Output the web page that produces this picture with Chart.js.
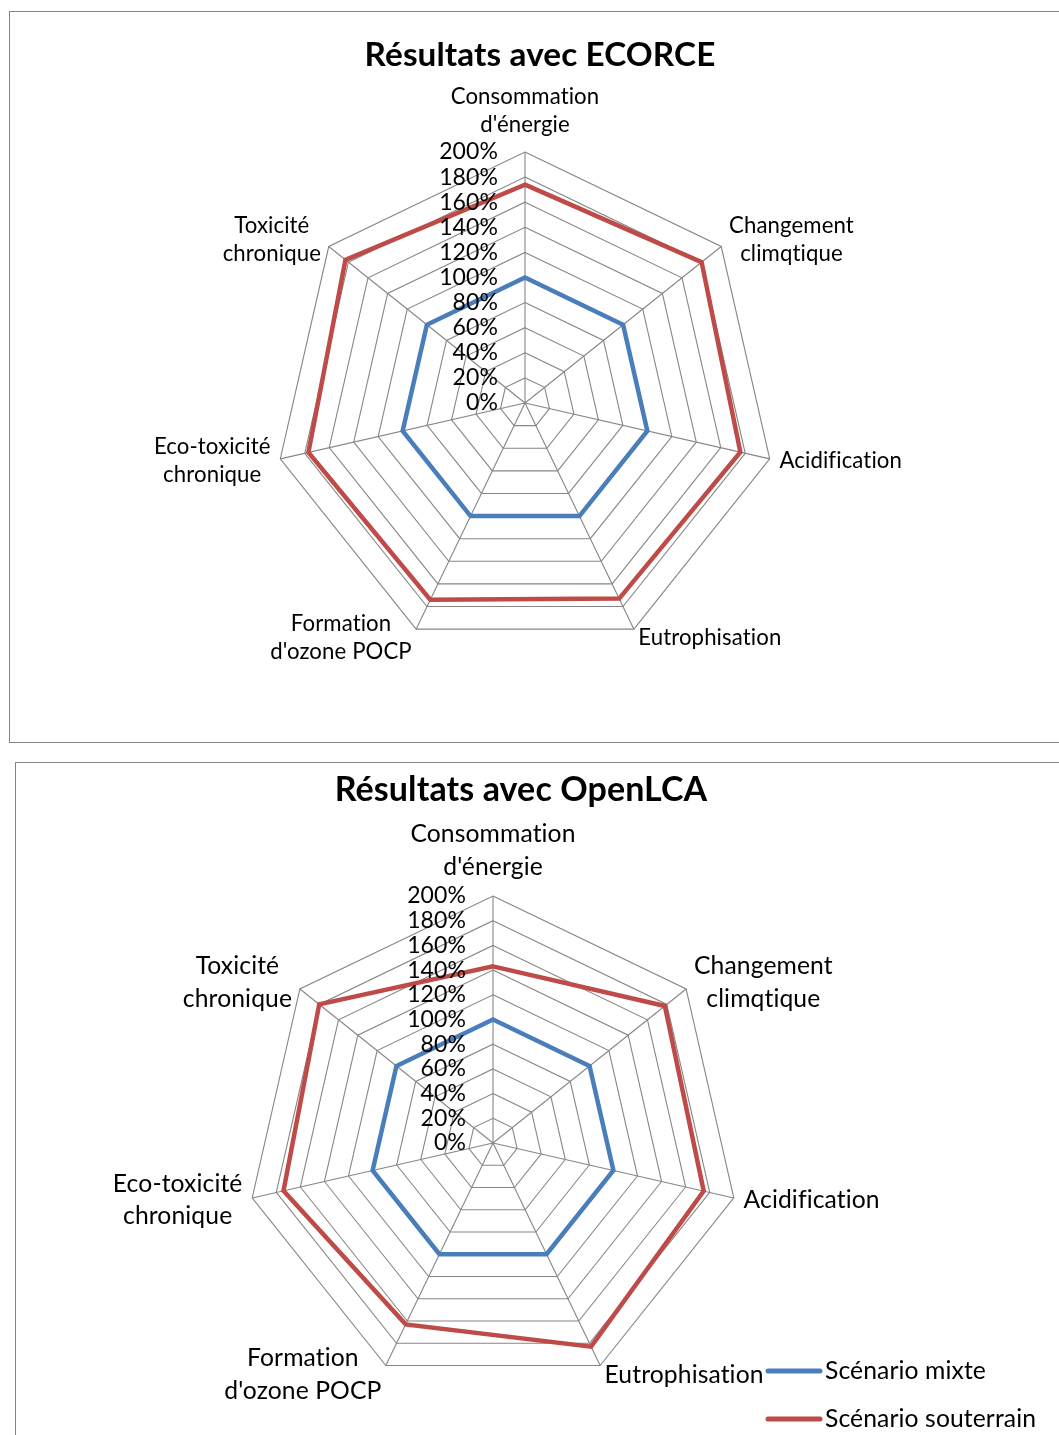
<!DOCTYPE html>
<html>
<head>
<meta charset="utf-8">
<script src="https://cdn.jsdelivr.net/npm/chart.js@4.4.0/dist/chart.umd.min.js"></script>
<style>
html,body{margin:0;padding:0;background:#fff;}
body{width:1059px;height:1435px;position:relative;overflow:hidden;}
.box{position:absolute;border:1px solid #868686;box-sizing:border-box;}
canvas{position:absolute;left:0;}
</style>
</head>
<body>
<div class="box" style="left:9px;top:11px;width:1070px;height:732px"></div>
<div class="box" style="left:15px;top:762px;width:1070px;height:700px"></div>
<canvas id="c1" width="1059" height="750" style="top:0px"></canvas>
<canvas id="c2" width="1059" height="685" style="top:750px"></canvas>
<script>
// ---------- DATA ----------
const categories = [
  ["Consommation", "d'énergie"],
  ["Changement", "climqtique"],
  ["Acidification"],
  ["Eutrophisation"],
  ["Formation", "d'ozone POCP"],
  ["Eco-toxicité", "chronique"],
  ["Toxicité", "chronique"]
];
const seriesNames = ["Scénario mixte", "Scénario souterrain"];
const ecorceMixte       = [100, 100, 100, 100, 100, 100, 100];
const ecorceSouterrain  = [174, 180, 176, 173, 174, 177, 183];
const openlcaMixte      = [100, 100, 100, 100, 100, 100, 100];
const openlcaSouterrain = [143, 178, 175, 183, 163, 174, 180];
const tickValues = [0, 20, 40, 60, 80, 100, 120, 140, 160, 180, 200];
const tickLabels = ["0%", "20%", "40%", "60%", "80%", "100%", "120%", "140%", "160%", "180%", "200%"];
const titles = ["Résultats avec ECORCE", "Résultats avec OpenLCA"];

// ---------- STYLE ----------
const BLUE = '#4A7EBB';
const RED = '#BE4B48';
const GRID = '#868686';
const FONT = 'Lato, "Open Sans", sans-serif';

const excelRadar = {
  id: 'excelRadar',
  afterDatasetsDraw(chart, args, o) {
    const s = chart.scales.r;
    const ctx = chart.ctx;
    ctx.save();
    if ('letterSpacing' in ctx) ctx.letterSpacing = '0.1px'; // avoids "ti" ligatures
    ctx.fillStyle = '#000';
    // title
    ctx.font = 'bold ' + o.titleSize + 'px ' + FONT;
    ctx.textAlign = 'center';
    ctx.textBaseline = 'middle';
    ctx.fillText(o.title, o.titleX, o.titleY);
    // tick labels
    ctx.font = o.tickSize + 'px ' + FONT;
    ctx.textAlign = 'right';
    tickValues.forEach((v, i) => {
      const d = s.getDistanceFromCenterForValue(v);
      ctx.fillText(tickLabels[i], s.xCenter - o.tickGap, s.yCenter - d);
    });
    // point labels
    ctx.font = o.labelSize + 'px ' + FONT;
    chart.data.labels.forEach((lab, i) => {
      const lines = Array.isArray(lab) ? lab : [lab];
      const a = s.getIndexAngle(i);
      const sa = Math.sin(a), ca = Math.cos(a);
      const lh = o.lineHeight;
      const blockH = lines.length * lh;
      const maxW = Math.max(...lines.map(t => ctx.measureText(t).width));
      let p, cx, yTop;
      if (Math.abs(sa) < 0.01) {
        p = s.getPointPosition(i, s.drawingArea + o.topGap);
        cx = p.x;
        yTop = ca > 0 ? p.y - blockH : p.y;
      } else {
        p = s.getPointPosition(i, s.drawingArea + o.labelGap);
        cx = sa > 0 ? p.x + maxW / 2 : p.x - maxW / 2;
        yTop = p.y - blockH / 2;
      }
      ctx.textAlign = 'center';
      lines.forEach((t, k) => ctx.fillText(t, cx, yTop + lh * (k + 0.5)));
    });
    // legend
    if (o.legend) {
      ctx.font = o.legendSize + 'px ' + FONT;
      ctx.textAlign = 'left';
      chart.data.datasets.forEach((ds, k) => {
        const y = o.legendY + k * o.legendStep;
        ctx.strokeStyle = ds.borderColor;
        ctx.lineWidth = 5;
        ctx.lineCap = 'round';
        ctx.beginPath();
        ctx.moveTo(o.legendX, y);
        ctx.lineTo(o.legendX + o.legendLine, y);
        ctx.stroke();
        ctx.fillText(ds.label, o.legendX + o.legendLine + 5, y);
      });
    }
    ctx.restore();
  }
};

function makeChart(id, mixte, souterrain, pad, opts) {
  return new Chart(document.getElementById(id), {
    type: 'radar',
    data: {
      labels: categories,
      datasets: [
        { label: seriesNames[0], data: mixte, borderColor: BLUE, backgroundColor: 'transparent', borderWidth: 4.5, pointRadius: 0, pointHoverRadius: 0, fill: false },
        { label: seriesNames[1], data: souterrain, borderColor: RED, backgroundColor: 'transparent', borderWidth: 4.5, pointRadius: 0, pointHoverRadius: 0, fill: false }
      ]
    },
    options: {
      responsive: false,
      animation: false,
      layout: { padding: pad },
      plugins: {
        legend: { display: false },
        title: { display: false },
        tooltip: { enabled: false },
        excelRadar: opts
      },
      scales: {
        r: {
          min: 0, max: 200,
          ticks: { stepSize: 20, display: false },
          grid: { color: GRID, lineWidth: 1.1 },
          angleLines: { color: GRID, lineWidth: 1.1 },
          pointLabels: { display: false }
        }
      }
    },
    plugins: [excelRadar]
  });
}

makeChart('c1', ecorceMixte, ecorceSouterrain,
  { left: 274, right: 283, top: 152, bottom: 96 },
  { title: titles[0], titleX: 540, titleY: 55, titleSize: 33.3,
    tickSize: 23, tickGap: 27, labelSize: 22.2, lineHeight: 28, topGap: 13, labelGap: 10, legend: false });

makeChart('c2', openlcaMixte, openlcaSouterrain,
  { left: 246, right: 319, top: 146, bottom: 45 },
  { title: titles[1], titleX: 521, titleY: 40, titleSize: 34,
    tickSize: 23, tickGap: 27, labelSize: 24.7, lineHeight: 32.5, topGap: 13, labelGap: 10,
    legend: true, legendX: 768, legendY: 621, legendStep: 48, legendLine: 52, legendSize: 24.7 });
</script>
</body>
</html>
